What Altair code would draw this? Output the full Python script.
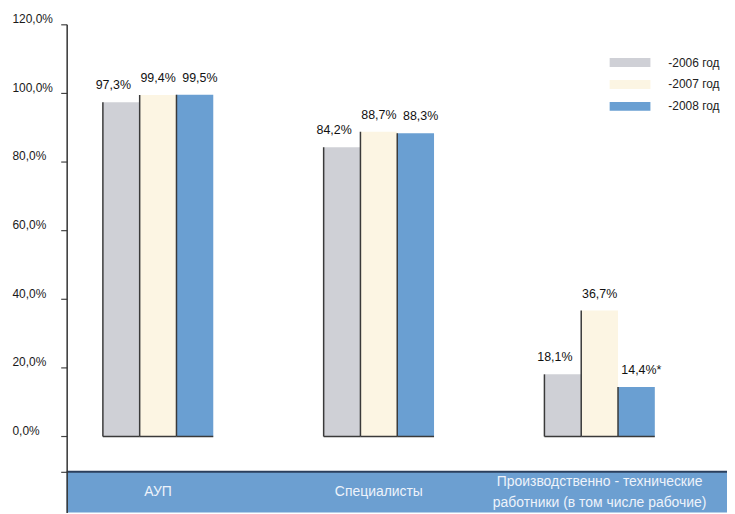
import altair as alt
import pandas as pd

# ---- data ----
categories = ["АУП", "Специалисты", "Производственно - технические\nработники (в том числе рабочие)"]
years = ["-2006 год", "-2007 год", "-2008 год"]
values_2006 = [97.3, 84.2, 18.1]
values_2007 = [99.4, 88.7, 36.7]
values_2008 = [99.5, 88.3, 14.4]
notes_2006 = ["", "", ""]
notes_2007 = ["", "", ""]
notes_2008 = ["", "", "*"]
y_ticks = [0, 20, 40, 60, 80, 100, 120]
colors = ["#cfd0d6", "#fcf5e3", "#6a9fd2"]

rows = []
for yi, (yr, vals, notes) in enumerate(zip(years, [values_2006, values_2007, values_2008],
                                            [notes_2006, notes_2007, notes_2008])):
    for ci, (cat, v, n) in enumerate(zip(categories, vals, notes)):
        rows.append(dict(category=cat, ci=ci, year=yr, yi=yi, value=v, note=n))
df = pd.DataFrame(rows)
cat_df = pd.DataFrame({"category": categories, "ci": list(range(len(categories)))})
one = pd.DataFrame({"a": [0]})

# ---- layout ----
W, H = 664, 491
Y_MIN, Y_MAX = -22.15, 120
BAND_TOP, BAND_MID = -10.28, -16.2
LINE_STEP = 21 / 3.4542  # one text line in data units
X_MIN = -0.414
X_MAX = X_MIN + W / 222.0
FONT = "Liberation Sans"

xs = alt.Scale(domain=[X_MIN, X_MAX], nice=False, zero=False)
ys = alt.Scale(domain=[Y_MIN, Y_MAX], nice=False, zero=False)

y_axis = alt.Axis(
    values=y_ticks + [BAND_TOP],
    labelExpr="datum.value < 0 ? '' : replace(format(datum.value, '.1f'), '.', ',') + '%'",
    grid=False, domainColor="#333333", domainWidth=1.5,
    tickColor="#444444", tickSize=6, tickWidth=1.2,
    labelAlign="left", labelPadding=49, labelBaseline="middle", labelOffset=-6,
    labelFont=FONT, labelFontSize=12, labelColor="#1a1a1a", zindex=1, title=None,
)


def Yq(field=None, datum=None):
    if datum is not None:
        return alt.Y(datum=datum, type="quantitative", scale=ys, axis=y_axis, title=None)
    return alt.Y(field, type="quantitative", scale=ys, axis=y_axis, title=None)


def Xq(field=None, datum=None):
    if datum is not None:
        return alt.X(datum=datum, type="quantitative", scale=xs, axis=None)
    return alt.X(field, type="quantitative", scale=xs, axis=None)


base = alt.Chart(df).transform_calculate(
    x0="datum.ci + (datum.yi - 1.5) / 6",
    x1="datum.ci + (datum.yi - 0.5) / 6",
    xm="datum.ci + (datum.yi - 1) / 6",
    label="replace(format(datum.value, '.1f'), '.', ',') + '%' + datum.note",
)

band = alt.Chart(one).mark_rect(color="#6c9fd1").encode(
    x=Xq(datum=X_MIN), x2=alt.datum(X_MAX),
    y=Yq(datum=Y_MIN), y2=alt.datum(BAND_TOP),
)
band_line = alt.Chart(one).mark_rule(color="#2b3f5c", strokeWidth=2).encode(
    x=Xq(datum=X_MIN), x2=alt.datum(X_MAX),
    y=Yq(datum=BAND_TOP),
)

bars = base.mark_rect().encode(
    x=Xq("x0"), x2="x1:Q",
    y=Yq("value"), y2=alt.datum(0),
    color=alt.Color("year:N", scale=alt.Scale(domain=years, range=colors), legend=alt.Legend(
        title=None, orient="none", legendX=556, legendY=28,
        symbolType="M-2,-0.44H2V0.44H-2Z", symbolSize=420, symbolStrokeWidth=0,
        symbolOpacity=1, labelFont=FONT, labelFontSize=12, labelColor="#222222",
        labelOffset=28, rowPadding=5, padding=0,
    )),
)

left_edges = base.mark_rule(color="#3a3a3a", strokeWidth=1.5).encode(
    x=Xq("x0"), y=Yq("value"), y2=alt.datum(0),
)
bottom_edges = base.mark_rule(color="#3a3a3a", strokeWidth=1.5).encode(
    x=Xq("x0"), x2="x1:Q", y=Yq(datum=0),
)

label_dx = [-8, 0, 5]
value_labels = []
for yi, dx in enumerate(label_dx):
    value_labels.append(
        base.transform_filter(f"datum.yi == {yi}").mark_text(
            dx=dx, dy=-13, baseline="alphabetic", align="center",
            font=FONT, fontSize=12.5, color="#111111",
        ).encode(
            x=Xq("xm"), y=Yq("value"), text="label:N",
        )
    )

cat_labels = alt.Chart(cat_df).transform_calculate(
    nl="length(split(datum.category, '\\n'))",
    ty=f"{BAND_MID} + (datum.nl - 1) * {LINE_STEP / 2}",
).mark_text(
    font=FONT, fontSize=14, color="#eef3fb", lineBreak="\n", lineHeight=21,
    baseline="middle", align="center",
).encode(
    x=Xq("ci"), y=Yq("ty"), text="category:N",
)

chart = alt.layer(
    band, band_line, bars, left_edges, bottom_edges, *value_labels, cat_labels
).properties(
    width=W, height=H,
    autosize="none",
    padding={"left": 59, "top": 15, "right": 0, "bottom": 0},
    background="white",
).configure_view(stroke=None)

chart.save("out.html", embed_options={"renderer": "svg", "actions": False})
